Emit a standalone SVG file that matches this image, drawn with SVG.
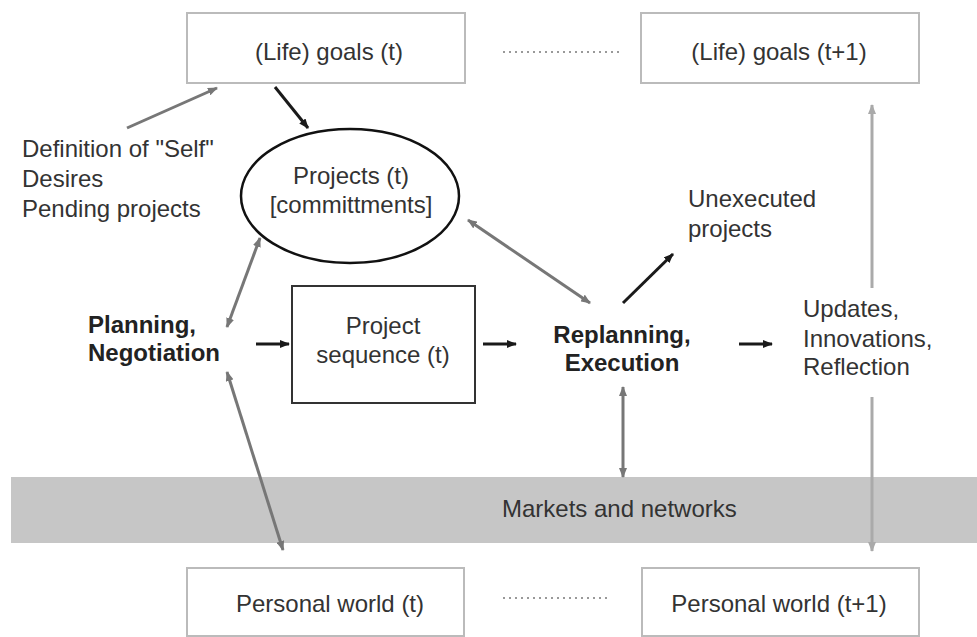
<svg xmlns="http://www.w3.org/2000/svg" width="977" height="637" viewBox="0 0 977 637">
  <defs>
    <marker id="headDark" viewBox="0 0 10 8" refX="9" refY="4" markerWidth="10" markerHeight="8" markerUnits="userSpaceOnUse" orient="auto-start-reverse">
      <path d="M0,0 L10,4 L0,8 Z" fill="#1a1a1a"/>
    </marker>
    <marker id="headGrey" viewBox="0 0 10 8" refX="9" refY="4" markerWidth="10" markerHeight="8" markerUnits="userSpaceOnUse" orient="auto-start-reverse">
      <path d="M0,0 L10,4 L0,8 Z" fill="#777"/>
    </marker>
    <marker id="headLight" viewBox="0 0 10 8" refX="9" refY="4" markerWidth="10" markerHeight="8" markerUnits="userSpaceOnUse" orient="auto-start-reverse">
      <path d="M0,0 L10,4 L0,8 Z" fill="#aaa"/>
    </marker>
  </defs>
  <style>
    text { font-family: "Liberation Sans", Arial, sans-serif; font-size: 24px; fill: #333; }
    .mid { text-anchor: middle; }
    .bold { font-weight: bold; fill: #222; }
    .light-box { fill: #fff; stroke: #bbb; stroke-width: 2; }
    .dark-box { fill: #fff; stroke: #333; stroke-width: 2; }
    .dark { stroke: #1a1a1a; stroke-width: 3; fill: none; marker-end: url(#headDark); }
    .grey { stroke: #777; stroke-width: 3; fill: none; marker-end: url(#headGrey); }
    .grey2 { stroke: #777; stroke-width: 3; fill: none; marker-start: url(#headGrey); marker-end: url(#headGrey); }
    .light { stroke: #aaa; stroke-width: 3; fill: none; marker-end: url(#headLight); }
    .dots { stroke: #999; stroke-width: 2; stroke-dasharray: 2 4; fill: none; }
  </style>

  <!-- shared environment band -->
  <g id="markets">
    <rect x="11" y="477" width="966" height="66" fill="#c6c6c6"/>
    <text x="502" y="517">Markets and networks</text>
  </g>

  <g id="goals-t">
    <rect class="light-box" x="187" y="13" width="278" height="70"/>
    <text class="mid" x="329" y="60">(Life) goals (t)</text>
  </g>
  <g id="goals-t1">
    <rect class="light-box" x="641" y="13" width="278" height="70"/>
    <text class="mid" x="779" y="60">(Life) goals (t+1)</text>
  </g>

  <g id="self">
    <text x="22" y="157">Definition of "Self"</text>
    <text x="22" y="187">Desires</text>
    <text x="22" y="217">Pending projects</text>
  </g>

  <g id="projects">
    <ellipse cx="350" cy="196" rx="109" ry="67" fill="#fff" stroke="#111" stroke-width="2.5"/>
    <text class="mid" x="351" y="184">Projects (t)</text>
    <text class="mid" x="351" y="213">[committments]</text>
  </g>

  <g id="unexecuted">
    <text x="688" y="207">Unexecuted</text>
    <text x="688" y="237">projects</text>
  </g>

  <g id="planning">
    <text class="bold" x="88" y="333">Planning,</text>
    <text class="bold" x="88" y="361">Negotiation</text>
  </g>

  <g id="sequence">
    <rect class="dark-box" x="292" y="286" width="183" height="117"/>
    <text class="mid" x="383" y="334">Project</text>
    <text class="mid" x="383" y="363">sequence (t)</text>
  </g>

  <g id="replanning">
    <text class="bold mid" x="622" y="343">Replanning,</text>
    <text class="bold mid" x="622" y="371">Execution</text>
  </g>

  <g id="updates">
    <text x="803" y="317">Updates,</text>
    <text x="803" y="347">Innovations,</text>
    <text x="803" y="375">Reflection</text>
  </g>

  <g id="world-t">
    <rect class="light-box" x="187" y="568" width="277" height="68"/>
    <text class="mid" x="330" y="612">Personal world (t)</text>
  </g>
  <g id="world-t1">
    <rect class="light-box" x="642" y="568" width="277" height="68"/>
    <text class="mid" x="779" y="612">Personal world (t+1)</text>
  </g>

  <g id="connectors">
    <!-- time continuation -->
    <line class="dots" x1="503" y1="52" x2="620" y2="52"/>
    <line class="dots" x1="503" y1="598" x2="610" y2="598"/>

    <line class="grey" x1="127" y1="128" x2="217" y2="88"/>
    <line class="dark" x1="275" y1="87" x2="308" y2="128"/>
    <line class="grey2" x1="227" y1="327" x2="260" y2="238"/>
    <line class="grey2" x1="468" y1="220" x2="590" y2="303"/>
    <line class="dark" x1="623" y1="303" x2="673" y2="254"/>
    <line class="dark" x1="256" y1="344" x2="289" y2="344"/>
    <line class="dark" x1="483" y1="344" x2="516" y2="344"/>
    <line class="dark" x1="739" y1="344" x2="772" y2="344"/>
    <line class="light" x1="872" y1="288" x2="872" y2="105"/>
    <line class="light" x1="872" y1="397" x2="872" y2="551"/>
    <line class="grey2" x1="623" y1="387" x2="623" y2="477"/>
    <line class="grey2" x1="227" y1="372" x2="283" y2="550"/>
  </g>
</svg>
